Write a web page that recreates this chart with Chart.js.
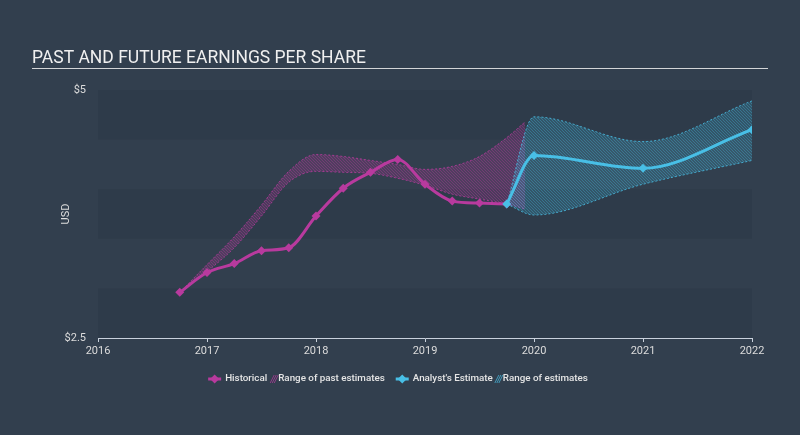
<!DOCTYPE html>
<html lang="en">
<head>
    <meta charset="UTF-8">
    <title>Past and Future Earnings Per Share</title>
    <script src="https://cdn.jsdelivr.net/npm/chart.js"></script>
    <style>
        body {
            margin: 0;
            background-color: #323f4e;
        }
        canvas {
            display: block;
        }
    </style>
</head>
<body>
    <canvas id="epsChart" width="800" height="435"></canvas>
    <script>
        // EPS data (x in fractional years)
        const histYears = [2016.75, 2017, 2017.25, 2017.5, 2017.75, 2018, 2018.25, 2018.5, 2018.75, 2019, 2019.25, 2019.5, 2019.75];
        const histEps = [2.96, 3.16, 3.25, 3.38, 3.41, 3.73, 4.01, 4.17, 4.30, 4.05, 3.88, 3.86, 3.85];

        const pastRangeYears = [2016.75, 2017, 2017.25, 2017.5, 2017.75, 2018, 2018.25, 2018.5, 2018.75, 2019, 2019.25, 2019.5, 2019.75, 2019.92];
        const pastRangeLow = [2.96, 3.17, 3.41, 3.73, 4.07, 4.18, 4.17, 4.16, 4.11, 4.04, 3.95, 3.90, 3.85, 3.80];
        const pastRangeHigh = [2.96, 3.24, 3.52, 3.84, 4.18, 4.35, 4.33, 4.29, 4.25, 4.20, 4.23, 4.33, 4.52, 4.68];

        const estYears = [2019.75, 2020, 2021, 2022];
        const estEps = [3.85, 4.34, 4.21, 4.60];
        const estLow = [3.85, 3.74, 4.05, 4.29];
        const estHigh = [3.85, 4.73, 4.48, 4.89];

        const yTicks = [2.5, 5];
        const shadedBands = [[4.5, 5], [3.5, 4], [2.5, 3]];

        const MAGENTA = '#b83a9e';
        const CYAN = '#48bfe6';

        const canvas = document.getElementById('epsChart');
        const ctx = canvas.getContext('2d');

        function toPoints(xs, ys) {
            return xs.map((x, i) => ({ x: x, y: ys[i] }));
        }

        function hatch(tint, stripe) {
            const s = 3;
            const c = document.createElement('canvas');
            c.width = s;
            c.height = s;
            const g = c.getContext('2d');
            g.fillStyle = tint;
            g.fillRect(0, 0, s, s);
            g.strokeStyle = stripe;
            g.lineWidth = 1;
            g.beginPath();
            g.moveTo(0, 0); g.lineTo(s, s);
            g.moveTo(-1, s - 1); g.lineTo(1, s + 1);
            g.moveTo(s - 1, -1); g.lineTo(s + 1, 1);
            g.stroke();
            return ctx.createPattern(c, 'repeat');
        }

        const pastFill = hatch('rgba(184,58,158,0.22)', 'rgba(184,58,158,0.35)');
        const estFill = hatch('rgba(72,191,230,0.2)', 'rgba(72,191,230,0.3)');

        function lineSet(label, data, color) {
            return {
                label: label,
                data: data,
                borderColor: color,
                backgroundColor: color,
                borderWidth: 3,
                cubicInterpolationMode: 'monotone',
                pointStyle: 'rectRot',
                pointRadius: 4.5,
                pointBorderWidth: 0,
                pointBackgroundColor: color,
                fill: false
            };
        }

        function edgeSet(label, data, color, fill, bg) {
            return {
                label: label,
                data: data,
                borderColor: color,
                backgroundColor: bg || 'transparent',
                borderWidth: 1,
                borderDash: [2, 2],
                cubicInterpolationMode: 'monotone',
                pointRadius: 0,
                fill: fill
            };
        }

        // custom drawing: background, title, bands, legend
        const decor = {
            id: 'decor',
            beforeDraw(chart) {
                const c = chart.ctx;
                c.save();
                c.fillStyle = '#323f4e';
                c.fillRect(0, 0, chart.width, chart.height);
                c.fillStyle = '#f0f0f0';
                c.font = '17.5px Roboto';
                c.textBaseline = 'alphabetic';
                c.fillText('PAST AND FUTURE EARNINGS PER SHARE', 32, 63);
                c.strokeStyle = 'rgba(240,240,240,0.85)';
                c.lineWidth = 1;
                c.beginPath();
                c.moveTo(32, 68.5);
                c.lineTo(768, 68.5);
                c.stroke();
                c.restore();
            },
            beforeDatasetsDraw(chart) {
                const c = chart.ctx;
                const area = chart.chartArea;
                const y = chart.scales.y;
                c.save();
                c.fillStyle = 'rgba(20,28,38,0.1)';
                shadedBands.forEach(b => {
                    const top = y.getPixelForValue(b[1]);
                    const bottom = y.getPixelForValue(b[0]);
                    c.fillRect(area.left, top, area.right - area.left, bottom - top);
                });
                c.restore();
            },
            afterDraw(chart) {
                const c = chart.ctx;
                c.save();
                c.font = '500 9.8px Roboto';
                c.textBaseline = 'middle';
                const ly = 379;
                const items = [
                    { type: 'line', color: MAGENTA },
                    { type: 'text', text: 'Historical', gap: 4 },
                    { type: 'hatch', color: MAGENTA, gap: 3 },
                    { type: 'text', text: 'Range of past estimates', gap: 2 },
                    { type: 'line', color: CYAN, gap: 11 },
                    { type: 'text', text: "Analyst's Estimate", gap: 4 },
                    { type: 'hatch', color: CYAN, gap: 2 },
                    { type: 'text', text: 'Range of estimates', gap: 2 }
                ];
                items.forEach(it => {
                    it.w = it.type === 'line' ? 13 : it.type === 'hatch' ? 6 : c.measureText(it.text).width;
                });
                const total = items.reduce((s, it) => s + it.w + (it.gap || 0), 0);
                let x = 398 - total / 2;
                items.forEach(it => {
                    x += it.gap || 0;
                    if (it.type === 'line') {
                        c.strokeStyle = it.color;
                        c.lineWidth = 3;
                        c.beginPath();
                        c.moveTo(x, ly);
                        c.lineTo(x + it.w, ly);
                        c.stroke();
                        c.fillStyle = it.color;
                        const cx = x + it.w / 2;
                        c.beginPath();
                        c.moveTo(cx, ly - 4.5);
                        c.lineTo(cx + 4.5, ly);
                        c.lineTo(cx, ly + 4.5);
                        c.lineTo(cx - 4.5, ly);
                        c.closePath();
                        c.fill();
                    } else if (it.type === 'hatch') {
                        c.strokeStyle = it.color;
                        c.globalAlpha = 0.7;
                        c.lineWidth = 1;
                        c.beginPath();
                        for (let k = 0; k < 3; k++) {
                            c.moveTo(x + k * 2, ly + 4);
                            c.lineTo(x + k * 2 + 4, ly - 4);
                        }
                        c.stroke();
                        c.globalAlpha = 1;
                    } else {
                        c.fillStyle = '#e6e6e6';
                        c.fillText(it.text, x, ly);
                    }
                    x += it.w;
                });
                c.restore();
            }
        };

        new Chart(ctx, {
            type: 'line',
            data: {
                datasets: [
                    lineSet("Analyst's Estimate", toPoints(estYears, estEps), CYAN),
                    lineSet('Historical', toPoints(histYears, histEps), MAGENTA),
                    edgeSet('Range of estimates high', toPoints(estYears, estHigh), 'rgba(72,191,230,0.8)', '+1', estFill),
                    edgeSet('Range of estimates low', toPoints(estYears, estLow), 'rgba(72,191,230,0.8)', false),
                    edgeSet('Range of past estimates high', toPoints(pastRangeYears, pastRangeHigh), 'rgba(184,58,158,0.8)', '+1', pastFill),
                    edgeSet('Range of past estimates low', toPoints(pastRangeYears, pastRangeLow), 'rgba(184,58,158,0.8)', false)
                ]
            },
            options: {
                responsive: false,
                animation: false,
                devicePixelRatio: 1,
                layout: {
                    padding: { top: 90, right: 48, bottom: 0, left: 0 }
                },
                plugins: {
                    legend: { display: false },
                    tooltip: { enabled: false }
                },
                scales: {
                    x: {
                        type: 'linear',
                        min: 2016,
                        max: 2022,
                        ticks: {
                            stepSize: 1,
                            color: '#dcdcdc',
                            font: { family: 'Roboto', size: 11 },
                            padding: 3,
                            callback: v => String(v)
                        },
                        grid: {
                            display: true,
                            drawOnChartArea: false,
                            drawTicks: true,
                            tickLength: 4,
                            color: '#c9d1dc'
                        },
                        border: { display: true, color: '#c9d1dc', width: 1 },
                        afterFit: scale => { scale.height = 97; }
                    },
                    y: {
                        min: 2.5,
                        max: 5,
                        afterBuildTicks: axis => { axis.ticks = yTicks.map(v => ({ value: v })); },
                        ticks: {
                            color: '#dcdcdc',
                            font: { family: 'Roboto', size: 11 },
                            padding: 12,
                            callback: v => '$' + v
                        },
                        grid: { display: false, drawTicks: false },
                        border: { display: false },
                        title: {
                            display: true,
                            text: 'USD',
                            color: '#dcdcdc',
                            font: { family: 'Roboto', size: 11 },
                            padding: { top: 60, bottom: 0 }
                        },
                        afterFit: scale => { scale.width = 98; }
                    }
                }
            },
            plugins: [decor]
        });
    </script>
</body>
</html>
